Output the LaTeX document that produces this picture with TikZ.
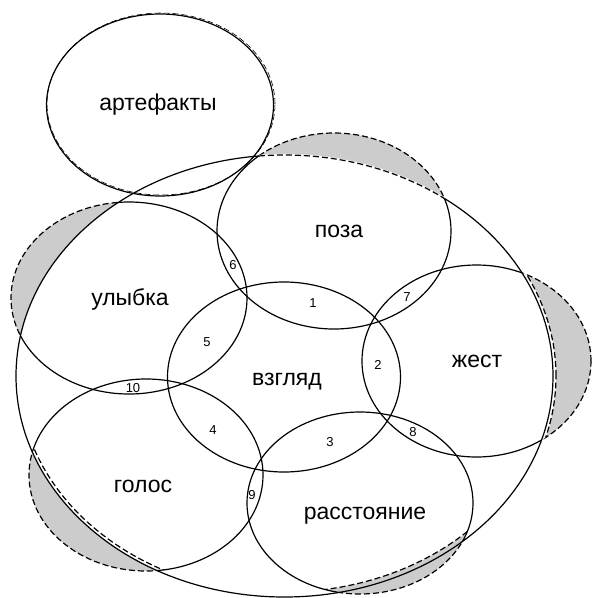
\documentclass[tikz,border=0pt]{standalone}
\usepackage{fontspec}
\setmainfont{Liberation Sans}
\begin{document}
\begin{tikzpicture}[x=1pt,y=-1pt,line width=1.2pt,
  lbl/.style={font=\fontsize{23}{23}\selectfont,anchor=base,inner sep=0pt},
  num/.style={font=\fontsize{13}{13}\selectfont,inner sep=0pt},
  shadefill/.style={fill=black!20},
  dsh/.style={dash pattern=on 6pt off 3pt},
  bigE/.style={insert path={(284.5,376) ellipse [x radius=268.5pt, y radius=221pt]}},
  bigOut/.style={insert path={(284.5,376) ellipse [x radius=271.5pt, y radius=224pt]}},
  bigIn/.style={insert path={(284.5,376) ellipse [x radius=265.5pt, y radius=218pt]}},
  bigIn4/.style={insert path={(284.5,376) ellipse [x radius=263.5pt, y radius=216pt]}},
  ulE/.style={insert path={(129,298) ellipse [x radius=118pt, y radius=96pt]}},
  pozE/.style={insert path={(334,231) ellipse [x radius=117pt, y radius=98pt]}},
  zhE/.style={insert path={(476.5,361) ellipse [x radius=114.5pt, y radius=96pt]}},
  golE/.style={insert path={(146,475) ellipse [x radius=117pt, y radius=96pt]}},
  rasE/.style={insert path={(360,503) ellipse [x radius=113pt, y radius=91pt]}},
  vzE/.style={insert path={(284,377) ellipse [x radius=116.5pt, y radius=95pt]}},
  artE/.style={insert path={(160,105) ellipse [x radius=113.5pt, y radius=91pt]}},
  artD/.style={insert path={(161,104) ellipse [x radius=114pt, y radius=91pt]}}]
\useasboundingbox (0,0) rectangle (593,598);
% grey parts outside the large ellipse
\fill[shadefill,ulE];
\fill[shadefill,pozE];
\fill[shadefill,zhE];
\fill[shadefill,golE];
\fill[shadefill,rasE];
\draw[dsh,ulE];
\draw[dsh,pozE];
\draw[dsh,zhE];
\draw[dsh,golE];
\draw[dsh,rasE];
\fill[white,bigE];
% offset edges of the grey crescents
\begin{scope}
  \clip[zhE];
  \fill[white,bigOut];
  \draw[dsh,bigOut];
\end{scope}
\begin{scope}
  \clip[rasE];
  \clip[bigE];
  \fill[shadefill,bigE];
  \fill[white,bigIn4];
  \draw[dsh,bigIn4];
\end{scope}
\begin{scope}
  \clip[golE];
  \draw[dsh,bigIn];
\end{scope}
% large ellipse
\draw[bigE];
\begin{scope}
  \clip[pozE];
  \draw[white,line width=2.2pt,bigE];
  \draw[dsh,bigE];
\end{scope}
% inner ellipses
\begin{scope}
  \clip[bigE];
  \draw[ulE];
  \draw[pozE];
  \draw[zhE];
  \draw[golE];
  \draw[rasE];
\end{scope}
\draw[vzE];
\draw[artE];
\draw[dsh,line width=0.6pt,artD];
% labels
\node[lbl] (art) at (158,110) {артефакты};
\node[lbl] (poza) at (339,237) {поза};
\node[lbl] (ulyb) at (130,305) {улыбка};
\node[lbl] (vzg) at (287,385) {взгляд};
\node[lbl] (zhest) at (477,367) {жест};
\node[lbl] (golos) at (143,492) {голос};
\node[lbl] (rasst) at (365,519) {расстояние};
\node[num] (n1) at (313,303) {1};
\node[num] (n2) at (378,365) {2};
\node[num] (n3) at (330,442) {3};
\node[num] (n4) at (213,430) {4};
\node[num] (n5) at (207,342) {5};
\node[num] (n6) at (233,265) {6};
\node[num] (n7) at (407,297) {7};
\node[num] (n8) at (413,432) {8};
\node[num] (n9) at (252,495) {9};
\node[num] (n10) at (133,388) {10};
\end{tikzpicture}
\end{document}
